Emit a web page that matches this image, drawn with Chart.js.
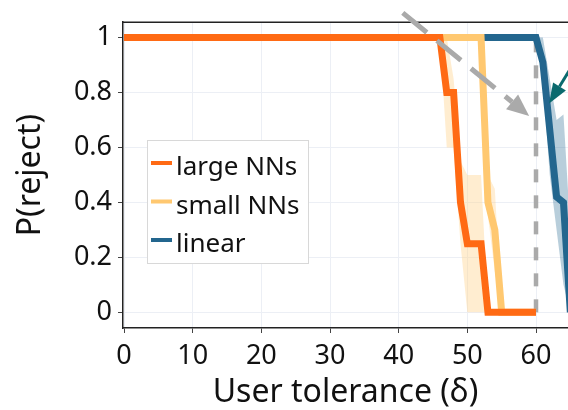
<!DOCTYPE html>
<html>
<head>
<meta charset="utf-8">
<script src="https://cdn.jsdelivr.net/npm/chart.js@4"></script>
<style>
  html, body { margin: 0; padding: 0; background: #fff; }
  #wrap { width: 568px; height: 410px; }
</style>
</head>
<body>
<div id="wrap"><canvas id="chart" width="568" height="410"></canvas></div>
<script>
// mean curves
const largeX = [0, 46, 47, 48, 49, 50, 52, 53, 60];
const largeY = [1, 1, 0.8, 0.8, 0.4, 0.25, 0.25, 0, 0];
const smallX = [0, 52, 53, 54, 55, 60];
const smallY = [1, 1, 0.4, 0.3, 0, 0];
const linearX = [0, 60, 61, 63, 64, 65];
const linearY = [1, 1, 0.91, 0.42, 0.4, 0];

// spread bands (upper / lower)
const largeBandX = [46, 47, 48, 49, 50, 52, 53];
const largeHi = [1, 1, 0.85, 0.55, 0.5, 0.5, 0];
const largeLo = [1, 0.6, 0.6, 0.25, 0, 0, 0];
const smallBandX = [52, 53, 54, 55];
const smallHi = [1, 0.5, 0.45, 0];
const smallLo = [1, 0.35, 0.15, 0];
const linearBandX = [60, 61, 62, 63, 64, 65];
const linearHi = [1, 1, 0.85, 0.7, 0.72, 0.3];
const linearLo = [1, 0.85, 0.5, 0.3, 0.1, 0];

// threshold marker
const thresholdX = [60, 60];
const thresholdY = [0, 1];

const xTicks = [0, 10, 20, 30, 40, 50, 60];
const yTicks = [0, 0.2, 0.4, 0.6, 0.8, 1];

const colors = {
  large: '#ff6a14',
  small: '#ffc870',
  linear: '#23668e'
};

const FONT = '"Noto Sans", Lato, sans-serif';

function pts(xs, ys) {
  return xs.map((x, i) => ({ x: x, y: ys[i] }));
}

function meanLine(label, xs, ys, color, order) {
  return {
    label: label,
    data: pts(xs, ys),
    borderColor: color,
    backgroundColor: color,
    borderWidth: 7,
    pointRadius: 0,
    fill: false,
    order: order
  };
}

function band(xs, hi, lo, color, order) {
  return [
    { label: '', data: pts(xs, hi), borderWidth: 0, pointRadius: 0,
      backgroundColor: color, fill: '+1', order: order },
    { label: '', data: pts(xs, lo), borderWidth: 0, pointRadius: 0,
      fill: false, order: order }
  ];
}

const datasets = [
  meanLine('large NNs', largeX, largeY, colors.large, 1),
  meanLine('small NNs', smallX, smallY, colors.small, 2),
  meanLine('linear', linearX, linearY, colors.linear, 3),
  {
    label: '',
    data: pts(thresholdX, thresholdY),
    borderColor: '#aaaaaa',
    borderWidth: 4.5,
    borderDash: [13, 13],
    pointRadius: 0,
    fill: false,
    order: 4
  },
  ...band(largeBandX, largeHi, largeLo, 'rgba(255, 214, 150, 0.45)', 10),
  ...band(smallBandX, smallHi, smallLo, 'rgba(255, 200, 112, 0.3)', 11),
  ...band(linearBandX, linearHi, linearLo, 'rgba(35, 102, 142, 0.32)', 12)
];

// arrows are annotations in data units
const arrows = [
  { from: [40.6, 1.09], to: [59.0, 0.715], color: '#aaaaaa', width: 5, dash: [31, 13], head: 22, headW: 19 },
  { from: [66.8, 0.96], to: [61.9, 0.76], color: '#0b6a6e', width: 3, dash: [], head: 20, headW: 15 }
];

const annotations = {
  id: 'annotations',
  afterDatasetsDraw(chart) {
    const { ctx, chartArea, scales } = chart;
    ctx.save();
    // top frame line
    ctx.strokeStyle = '#222';
    ctx.lineWidth = 1.5;
    ctx.beginPath();
    ctx.moveTo(chartArea.left, chartArea.top);
    ctx.lineTo(chart.width, chartArea.top);
    ctx.stroke();

    arrows.forEach(a => {
      const x1 = scales.x.getPixelForValue(a.from[0]);
      const y1 = scales.y.getPixelForValue(a.from[1]);
      const x2 = scales.x.getPixelForValue(a.to[0]);
      const y2 = scales.y.getPixelForValue(a.to[1]);
      const ang = Math.atan2(y2 - y1, x2 - x1);
      const bx = x2 - a.head * Math.cos(ang);
      const by = y2 - a.head * Math.sin(ang);
      ctx.strokeStyle = a.color;
      ctx.fillStyle = a.color;
      ctx.lineWidth = a.width;
      ctx.setLineDash(a.dash);
      ctx.beginPath();
      ctx.moveTo(x1, y1);
      ctx.lineTo(bx, by);
      ctx.stroke();
      ctx.setLineDash([]);
      const nx = -Math.sin(ang) * a.headW / 2;
      const ny = Math.cos(ang) * a.headW / 2;
      ctx.beginPath();
      ctx.moveTo(x2, y2);
      ctx.lineTo(bx + nx, by + ny);
      ctx.lineTo(bx - nx, by - ny);
      ctx.closePath();
      ctx.fill();
    });

    // legend box inside plot
    const items = chart.data.datasets.filter(d => d.label);
    const lx = 147, ly = 140, lw = 161, lh = 123;
    ctx.fillStyle = '#ffffff';
    ctx.fillRect(lx, ly, lw, lh);
    ctx.strokeStyle = '#d8d8d8';
    ctx.lineWidth = 1;
    ctx.strokeRect(lx + 0.5, ly + 0.5, lw, lh);
    ctx.font = '26px ' + FONT;
    ctx.textBaseline = 'alphabetic';
    ctx.textAlign = 'left';
    items.forEach((d, i) => {
      const cy = 163 + i * 38.5;
      ctx.fillStyle = d.borderColor;
      ctx.fillRect(151, cy - 2, 21, 4);
      ctx.fillStyle = '#111';
      ctx.fillText(d.label, 176, cy + 12);
    });
    ctx.restore();
  }
};

new Chart(document.getElementById('chart'), {
  type: 'line',
  data: { datasets: datasets },
  options: {
    responsive: false,
    animation: false,
    layout: { padding: { top: 11, right: 0, left: 0, bottom: 0 } },
    plugins: {
      legend: { display: false },
      tooltip: { enabled: false }
    },
    scales: {
      x: {
        type: 'linear',
        min: -0.15,
        max: 64.66,
        afterFit: s => { s.height = 82; },
        afterBuildTicks: s => { s.ticks = xTicks.map(v => ({ value: v })); },
        grid: { color: '#eceff5', lineWidth: 1, tickColor: '#444', tickLength: 5 },
        border: { color: '#222', width: 1.5 },
        ticks: { color: '#111', font: { family: FONT, size: 27 }, padding: 7, maxRotation: 0 },
        title: { display: true, text: 'User tolerance (δ)', color: '#111',
          font: { family: FONT, size: 32, lineHeight: 1.05 }, padding: { top: 0, bottom: 0 } }
      },
      y: {
        min: -0.057,
        max: 1.056,
        afterFit: s => { s.width = 123; },
        afterBuildTicks: s => { s.ticks = yTicks.map(v => ({ value: v })); },
        grid: { color: '#eceff5', lineWidth: 1, tickColor: '#444', tickLength: 5 },
        border: { color: '#222', width: 1.5 },
        ticks: { color: '#111', font: { family: FONT, size: 27 }, padding: 6,
          callback: v => String(Math.round(v * 10) / 10) },
        title: { display: true, text: 'P(reject)', color: '#111',
          font: { family: FONT, size: 32 }, padding: { top: 12, bottom: 0 } }
      }
    }
  },
  plugins: [annotations]
});
</script>
</body>
</html>
